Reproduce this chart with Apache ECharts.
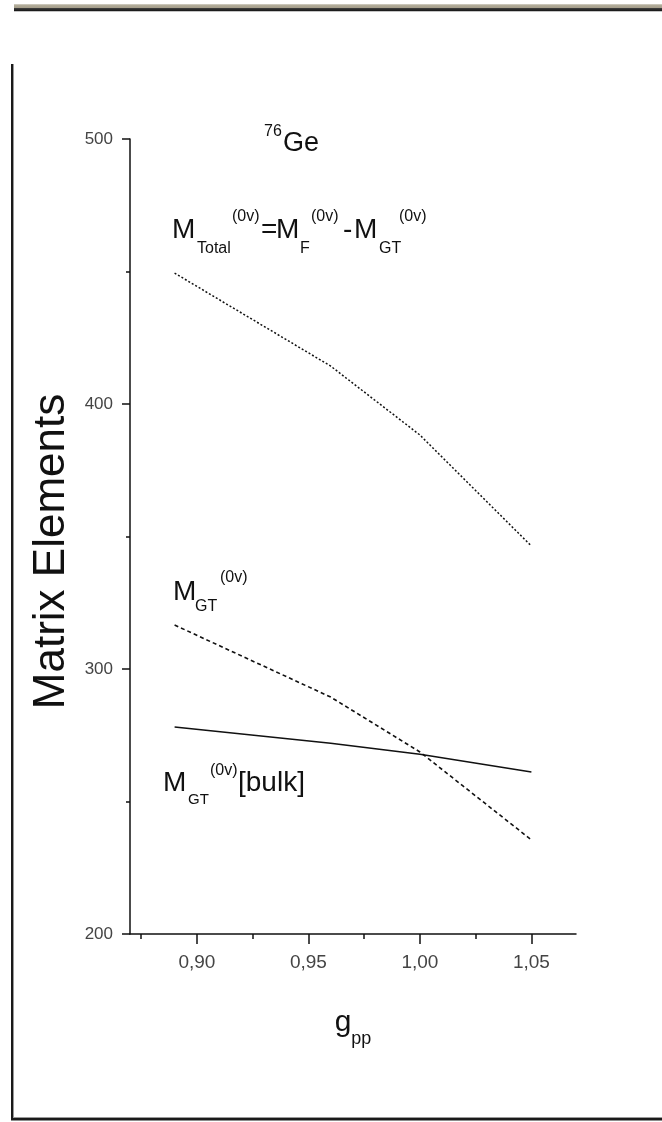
<!DOCTYPE html>
<html><head><meta charset="utf-8">
<script src="https://cdn.jsdelivr.net/npm/echarts@6/dist/echarts.min.js"></script>
<style>html,body{margin:0;padding:0;background:#fff}#c{width:662px;height:1122px}</style>
</head><body><div id="c"></div>
<script>
// ---- data ----
const gpp = [0.89, 0.96, 1.00, 1.05];
const mTotal = [449.4, 414.3, 388.3, 346.4];
const mGT = [316.6, 289.4, 268.7, 235.5];
const mGTbulk = [278.1, 272.0, 267.8, 261.1];
const xMajorTicks = [0.90, 0.95, 1.00, 1.05];
const xMinorTicks = [0.875, 0.925, 0.975, 1.025];
const yMin = 200, yMax = 500, yStep = 100;

const FONT = '"Liberation Sans", Arial, Helvetica, sans-serif';
const INK = '#111';

function piece(text, x, baseline, fs) {
  return { type: 'text', x: x, y: baseline - 0.3465 * fs, silent: true, z: 10,
    style: { text: text, fontSize: fs, fontFamily: FONT, fill: INK, align: 'left', verticalAlign: 'middle' } };
}

const annotations = [
  // 76Ge
  piece('76', 264, 137, 16), piece('Ge', 283, 153, 27),
  // M_Total^(0v)=M_F^(0v)-M_GT^(0v)
  piece('M', 172, 240, 28), piece('Total', 197, 254, 16), piece('(0v)', 232, 222, 16),
  piece('=', 261, 240, 28), piece('M', 276, 240, 28), piece('F', 300, 254, 16), piece('(0v)', 311, 222, 16),
  piece('-', 343, 240, 28), piece('M', 354, 240, 28), piece('GT', 379, 254, 16), piece('(0v)', 399, 222, 16),
  // M_GT^(0v)
  piece('M', 173, 602, 28), piece('GT', 195, 612, 16), piece('(0v)', 220, 583, 16),
  // M_GT^(0v)[bulk]
  piece('M', 163, 793, 28), piece('GT', 188, 805, 15), piece('(0v)', 210, 776, 16), piece('[bulk]', 238, 793, 28)
];

const frame = [
  { type: 'rect', silent: true, shape: { x: 14, y: 4, width: 648, height: 7.5 },
    style: { fill: { type: 'linear', x: 0, y: 0, x2: 0, y2: 1, colorStops: [
      { offset: 0, color: '#dedcd4' }, { offset: 0.14, color: '#b3ad9b' }, { offset: 0.55, color: '#a49d89' },
      { offset: 0.6, color: '#3a3a3a' }, { offset: 0.88, color: '#1a1a1a' }, { offset: 1, color: '#8a8a8a' }] } } },
  { type: 'rect', silent: true, shape: { x: 11, y: 64, width: 2, height: 1056 }, style: { fill: '#1a1a1a' } },
  { type: 'rect', silent: true, shape: { x: 13, y: 64, width: 1, height: 1053 }, style: { fill: '#9a9a9a' } },
  { type: 'rect', silent: true, shape: { x: 13, y: 1117, width: 649, height: 1 }, style: { fill: '#9a9a9a' } },
  { type: 'rect', silent: true, shape: { x: 11, y: 1118, width: 651, height: 2.5 }, style: { fill: '#1a1a1a' } }
];

const fmtX = v => Number(v).toFixed(2).replace('.', ',');
const pairs = arr => gpp.map((x, i) => [x, arr[i]]);

const chart = echarts.init(document.getElementById('c'));
chart.setOption({
  animation: false,
  backgroundColor: '#fff',
  grid: { left: 130, right: 86, top: 139, bottom: 188, containLabel: false },
  xAxis: [{
    type: 'value', min: 0.87, max: 1.07, position: 'bottom',
    axisLine: { show: true, onZero: false, lineStyle: { color: INK, width: 1.5 } },
    axisTick: { show: true, inside: false, length: 10, customValues: xMajorTicks, lineStyle: { color: INK, width: 1.5 } },
    axisLabel: { show: true, customValues: xMajorTicks, formatter: fmtX, margin: 19, fontSize: 19, color: '#444', fontFamily: FONT },
    splitLine: { show: false },
    name: '{g|g}{p|pp}', nameLocation: 'middle', nameGap: 74,
    nameTextStyle: { rich: {
      g: { fontSize: 30, fontFamily: FONT, color: INK, verticalAlign: 'top', lineHeight: 30 },
      p: { fontSize: 18, fontFamily: FONT, color: INK, verticalAlign: 'bottom', lineHeight: 40 } } }
  }, {
    type: 'value', min: 0.87, max: 1.07, position: 'bottom',
    axisLine: { show: false },
    axisTick: { show: true, inside: false, length: 5, customValues: xMinorTicks, lineStyle: { color: INK, width: 1.5 } },
    axisLabel: { show: false }, splitLine: { show: false }
  }],
  yAxis: {
    type: 'value', min: yMin, max: yMax, interval: yStep,
    axisLine: { show: true, onZero: false, lineStyle: { color: INK, width: 1.5 } },
    axisTick: { show: true, inside: false, length: 8, lineStyle: { color: INK, width: 1.5 } },
    minorTick: { show: true, splitNumber: 2, length: 4, lineStyle: { color: INK, width: 1.5 } },
    axisLabel: { margin: 17, fontSize: 17, color: '#444', fontFamily: FONT },
    splitLine: { show: false },
    name: 'Matrix Elements', nameLocation: 'middle', nameGap: 52,
    nameTextStyle: { fontSize: 44, fontFamily: FONT, color: INK, padding: [0, 30, 0, 0] }
  },
  series: [
    { name: 'M_Total', type: 'line', data: pairs(mTotal), symbol: 'none', lineStyle: { color: INK, width: 1.5, type: [2, 2] } },
    { name: 'M_GT', type: 'line', data: pairs(mGT), symbol: 'none', lineStyle: { color: INK, width: 1.6, type: [4, 3] } },
    { name: 'M_GT bulk', type: 'line', data: pairs(mGTbulk), symbol: 'none', lineStyle: { color: INK, width: 1.5, type: 'solid' } }
  ],
  graphic: frame.concat(annotations)
});
</script>
</body></html>
